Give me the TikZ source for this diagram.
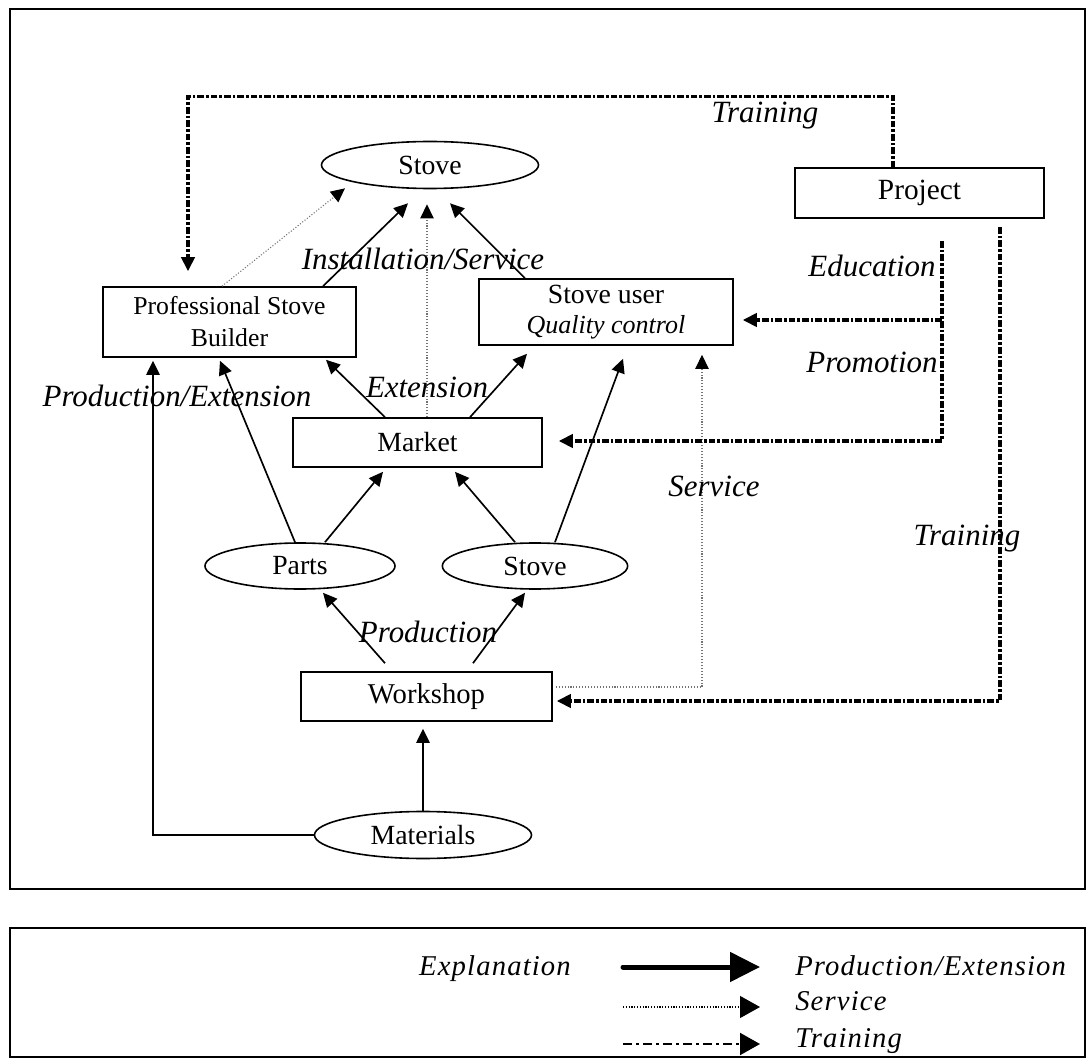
\documentclass[tikz,border=0pt]{standalone}
\usepackage{fontspec}
\setmainfont{Liberation Serif}
\usetikzlibrary{arrows.meta,shapes.geometric,calc}

% text sizes
\newcommand\ndfont{\fontsize{20.8}{23.25}\selectfont}
\newcommand\psbfont{\fontsize{19.3}{23.25}\selectfont}
\newcommand\qcfont{\fontsize{19.5}{19}\selectfont\itshape}
\newcommand\lbfont{\fontsize{23.2}{26}\selectfont\itshape}
\newcommand\lgfont{\fontsize{21.5}{24}\selectfont\itshape\addfontfeature{LetterSpace=4}}

\begin{document}
\begin{tikzpicture}[x=0.75pt,y=-0.75pt,
  box/.style={draw, line width=1.2pt, rectangle, inner sep=0pt, font=\ndfont, align=center},
  oval/.style={draw, line width=1.2pt, ellipse, inner sep=0pt, font=\ndfont},
  lbl/.style={font=\lbfont, inner sep=0pt, anchor=base},
  lgd/.style={font=\lgfont, inner sep=0pt, anchor=base west},
  tip/.style={-{Triangle[length=10.5pt,width=10pt,color=black]}},
  prod/.style={line width=1.25pt, tip},
  serv/.style={line width=0.8pt, black!55, dash pattern=on 0.8pt off 1.4pt, tip},
  train/.style={line width=2.3pt, dash pattern=on 5pt off 1.5pt on 2pt off 1.5pt},
  frame/.style={draw, line width=1.5pt}
]
\useasboundingbox (0,0) rectangle (1090,1059);

% outer frames
\draw[frame] (10,9) rectangle (1085,889);
\draw[frame] (10,928) rectangle (1085,1057);

% nodes
\node[oval, minimum width=162.75pt, minimum height=35.25pt] (stoveTop) at (430,165) {Stove};
\node[box, minimum width=186.75pt, minimum height=37.5pt, font=\fontsize{22}{24}\selectfont] (proj) at (919.5,193) {Project};
\node[box, minimum width=189.75pt, minimum height=52.5pt, font=\psbfont] (psb) at (229.5,322) {Professional Stove\\[0.8pt]Builder};
\node[box, minimum width=190.5pt, minimum height=49.5pt] (user) at (606,312) {Stove user\\[-1pt]{\qcfont Quality control}};
\node[box, minimum width=186.75pt, minimum height=36.75pt] (mkt) at (417.5,442.5) {Market};
\node[oval, minimum width=142.5pt, minimum height=34.5pt] (parts) at (300,566) {Parts};
\node[oval, minimum width=139pt, minimum height=34.5pt] (stoveLow) at (535,566) {Stove};
\node[box, minimum width=188.25pt, minimum height=36.75pt, font=\fontsize{21.5}{24}\selectfont] (ws) at (426.5,696.5) {Workshop};
\node[oval, minimum width=162.75pt, minimum height=35.25pt] (mat) at (423,835) {Materials};

% production / extension connectors
\draw[prod] ($(psb.north)+(93.5,0)$) -- ($(stoveTop.south)+(-22,14)$);
\draw[prod] ($(user.north)+(-81,0)$) -- ($(stoveTop.south)+(20,14)$);
\draw[prod] ($(mkt.north)+(-32.5,0)$) -- ($(psb.south)+(96.5,2)$);
\draw[prod] ($(mkt.north)+(52.5,0)$) -- ($(user.south)+(-79,8)$);
\draw[prod] ($(parts.north)+(-5,0)$) -- ($(psb.south)+(-9.5,3)$);
\draw[prod] ($(parts.north)+(25,0)$) -- ($(mkt.south)+(-34.5,4)$);
\draw[prod] ($(stoveLow.north)+(-20,0)$) -- ($(mkt.south)+(37.5,4)$);
\draw[prod] ($(stoveLow.north)+(20,0)$) -- ($(user.south)+(17,13)$);
\draw[prod] ($(ws.north)+(-41.5,-8)$) -- ($(parts.south)+(23,3)$);
\draw[prod] ($(ws.north)+(46.5,-8)$) -- ($(stoveLow.south)+(-10,3)$);
\draw[prod] (mat.north) -- ($(ws.south)+(-3.5,7)$);
\coordinate (psbIn) at ($(psb.south)+(-76.5,3)$);
\draw[prod] (mat.west) -| (psbIn);

% service connectors
\draw[serv] ($(psb.north)+(-7.5,0)$) -- ($(stoveTop.south)+(-85,-1)$);
\draw[serv] ($(mkt.north)+(9.5,0)$) -- ($(stoveTop.south)+(-3,15)$);
\draw[serv] ($(ws.east)+(3,-9.5)$) -| ($(user.south)+(96,9)$);

% training connectors
\draw[train, tip] ($(proj.north)+(-26.5,0)$) -- ++(0,-71) -| ($(psb.north)+(-41.5,-15)$);
\coordinate (edu) at (942,241);
\draw[train] (edu) -- (edu |- 0,441);
\draw[train, tip] (edu |- 0,320) -- ($(user.east)+(9,8)$);
\draw[train, tip] (edu |- 0,441) -- ($(mkt.east)+(16,-1.5)$);
\coordinate (trn) at (1000,227);
\draw[train, tip] (trn) |- ($(ws.east)+(4,4.5)$);

% connector labels
\node[lbl] (lTrainTop) at (765,123) {Training};
\node[lbl] (lInst) at (423,270) {Installation/Service};
\node[lbl] (lEdu) at (872,277) {Education};
\node[lbl] (lProm) at (872,373) {Promotion};
\node[lbl] (lExt) at (427,398) {Extension};
\node[lbl] (lProdExt) at (177,407) {Production/Extension};
\node[lbl] (lServ) at (714,497) {Service};
\node[lbl] (lTrainR) at (967,545) {Training};
\node[lbl] (lProd) at (428,642) {Production};

% legend
\node[font=\lgfont, inner sep=0pt, anchor=base] (lgExp) at (495,975) {Explanation};
\coordinate (lgA0) at (623,967); \coordinate (lgA1) at (760,967);
\coordinate (lgB0) at (623,1007); \coordinate (lgB1) at (760,1007);
\coordinate (lgC0) at (623,1044); \coordinate (lgC1) at (760,1044);
\draw[line width=3.75pt, line cap=round, -{Triangle[length=22.5pt,width=21.75pt]}] (lgA0) -- (lgA1);
\draw[line width=0.9pt, dash pattern=on 0.9pt off 1.2pt, -{Triangle[length=15pt,width=16.5pt]}] (lgB0) -- (lgB1);
\draw[line width=1.5pt, dash pattern=on 7pt off 3pt on 2pt off 3pt, -{Triangle[length=15pt,width=16.5pt]}] (lgC0) -- (lgC1);
\node[lgd] (lgPE) at (795,975) {Production/Extension};
\node[lgd] (lgS) at (795,1010) {Service};
\node[lgd] (lgT) at (795,1047) {Training};
\end{tikzpicture}
\end{document}
